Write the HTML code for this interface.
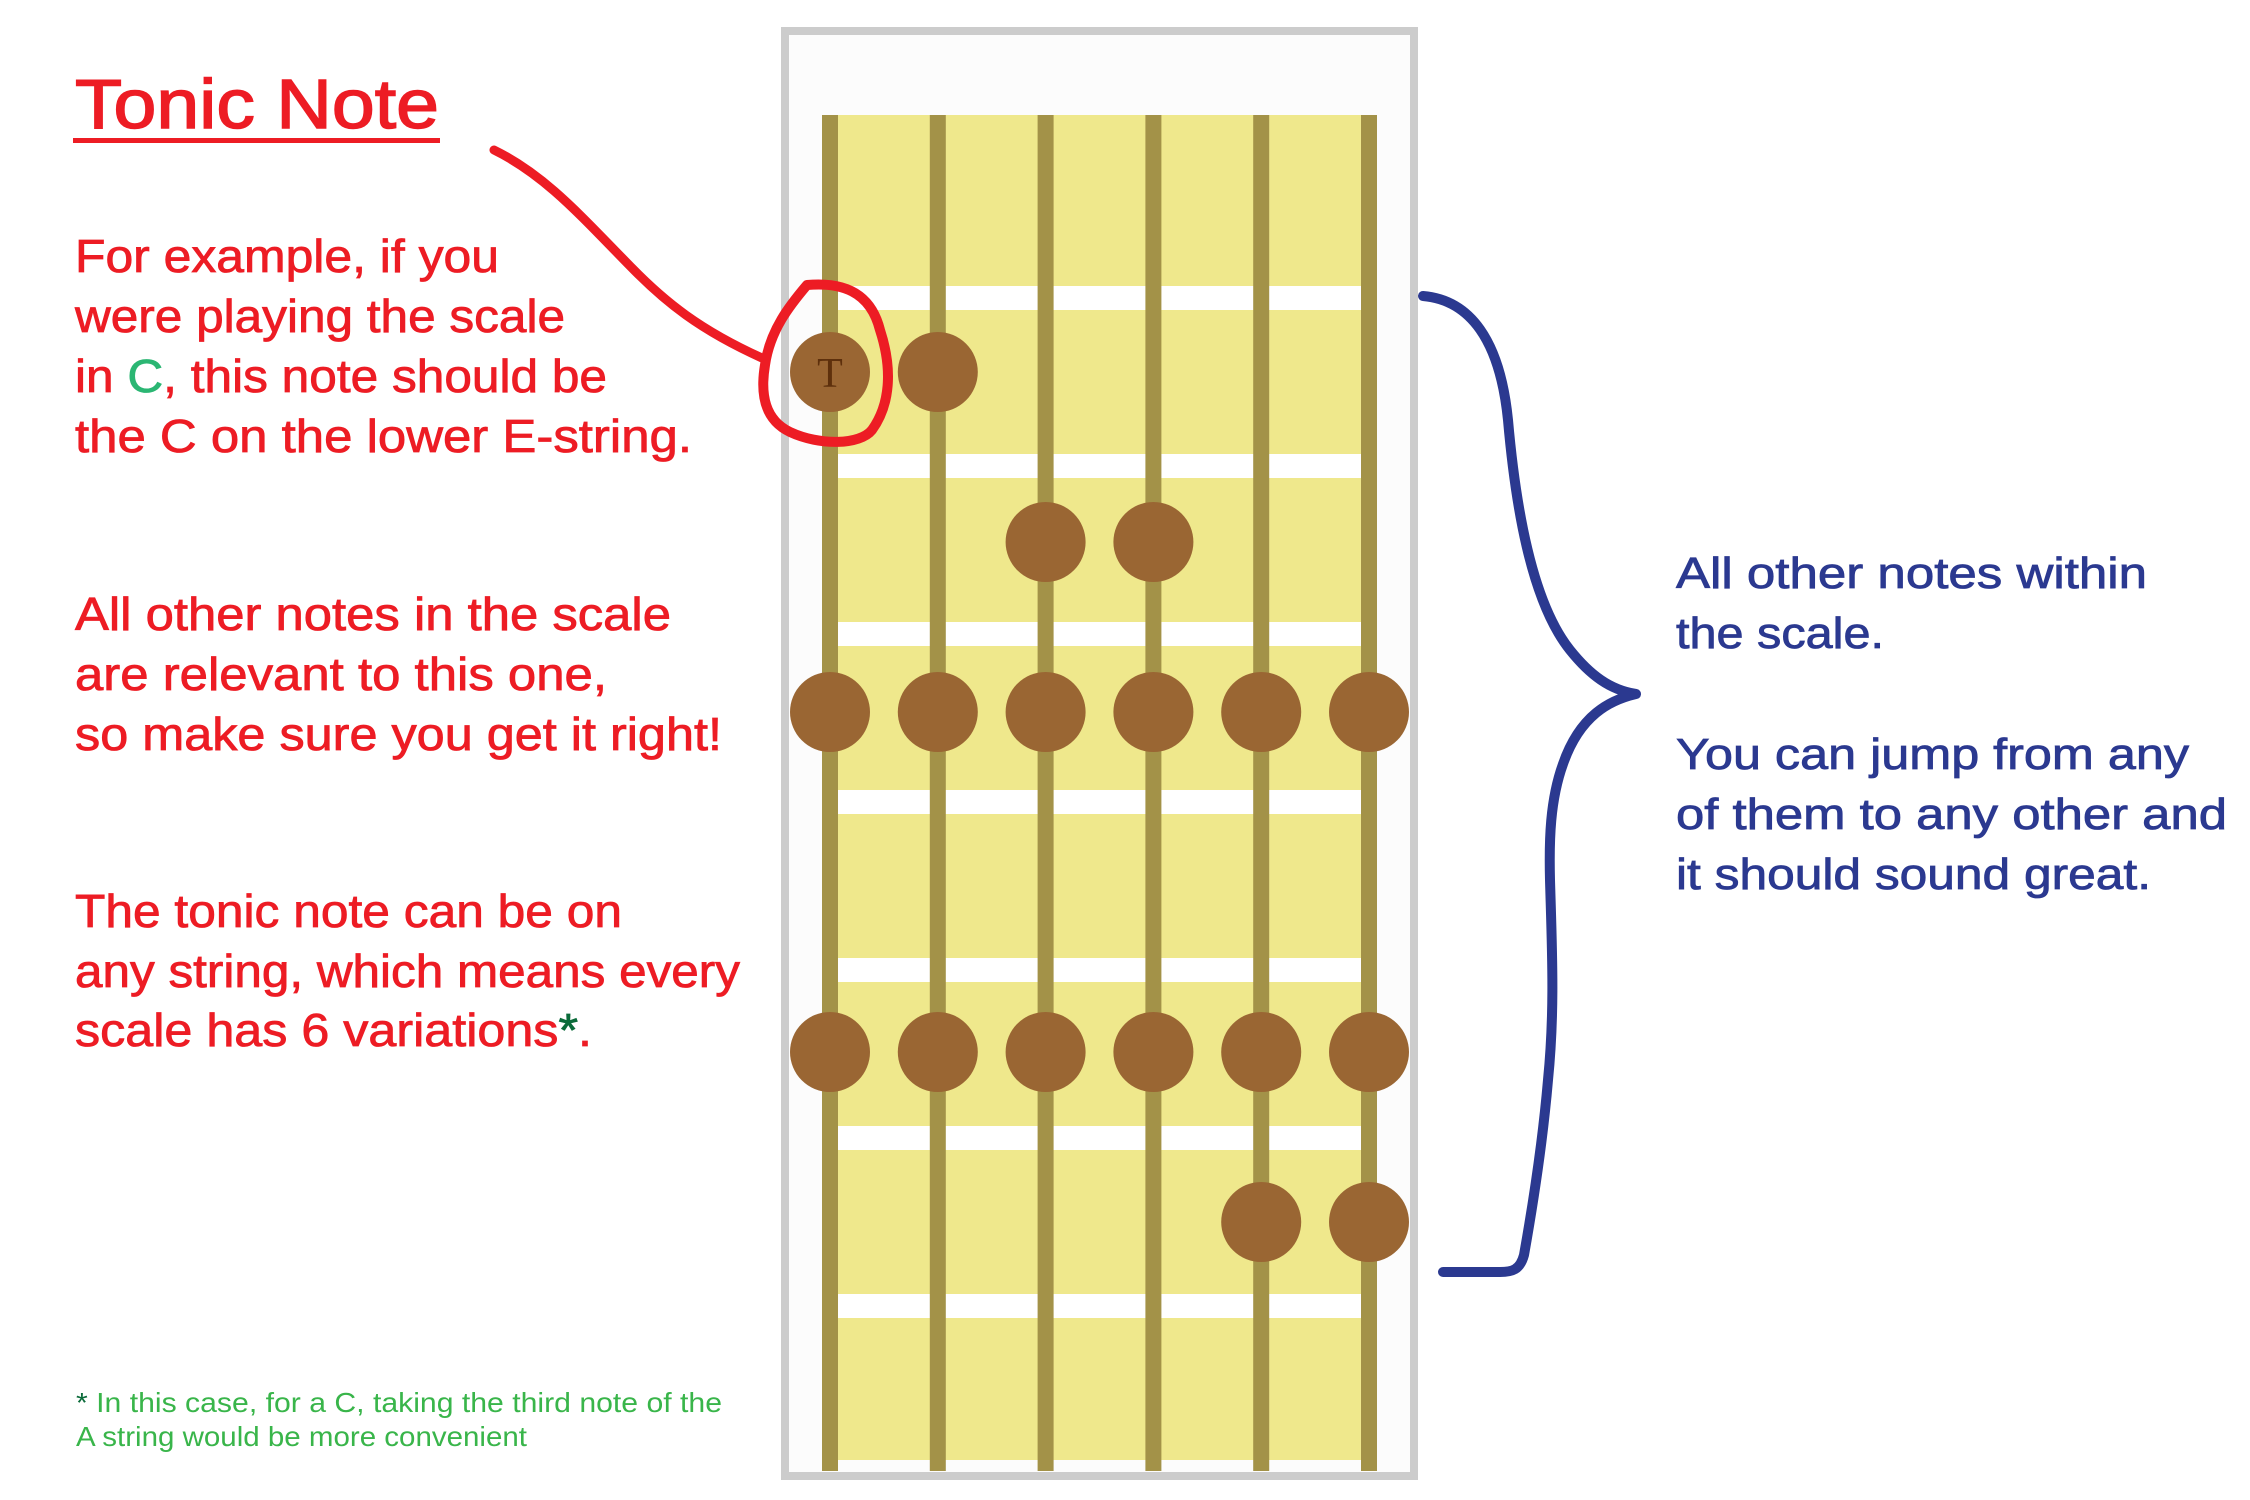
<!DOCTYPE html>
<html><head><meta charset="utf-8"><style>
html,body{margin:0;padding:0;background:#fff;}
svg{display:block;}
text{font-family:"Liberation Sans",sans-serif;}
</style></head><body>
<svg id="root" width="2250" height="1500" viewBox="0 0 2250 1500" xmlns="http://www.w3.org/2000/svg">
  <rect x="0" y="0" width="2250" height="1500" fill="#ffffff"/>
  <g fill="#ed1c24">
    <text x="75" y="128" font-size="70" stroke="#ed1c24" stroke-width="1.5" textLength="364" lengthAdjust="spacingAndGlyphs">Tonic Note</text>
    <rect x="73" y="138" width="367" height="5" fill="#ed1c24"/>
    <g font-size="46" stroke="#ed1c24" stroke-width="0.8">
      <text x="75" y="272" textLength="424" lengthAdjust="spacingAndGlyphs">For example, if you</text>
      <text x="75" y="332" textLength="490" lengthAdjust="spacingAndGlyphs">were playing the scale</text>
      <text x="75" y="392" textLength="532" lengthAdjust="spacingAndGlyphs">in <tspan fill="#2bb673" stroke="#2bb673">C</tspan>, this note should be</text>
      <text x="75" y="452" textLength="617" lengthAdjust="spacingAndGlyphs">the C on the lower E-string.</text>
    </g>
    <g font-size="46" stroke="#ed1c24" stroke-width="0.8">
      <text x="75" y="630" textLength="596" lengthAdjust="spacingAndGlyphs">All other notes in the scale</text>
      <text x="75" y="690" textLength="532" lengthAdjust="spacingAndGlyphs">are relevant to this one,</text>
      <text x="75" y="750" textLength="647" lengthAdjust="spacingAndGlyphs">so make sure you get it right!</text>
    </g>
    <g font-size="46" stroke="#ed1c24" stroke-width="0.8">
      <text x="75" y="927" textLength="547" lengthAdjust="spacingAndGlyphs">The tonic note can be on</text>
      <text x="75" y="987" textLength="665" lengthAdjust="spacingAndGlyphs">any string, which means every</text>
      <text x="75" y="1046" textLength="517" lengthAdjust="spacingAndGlyphs">scale has 6 variations<tspan fill="#0b6b3a" stroke="#0b6b3a">*</tspan>.</text>
    </g>
    <g font-size="28" fill="#39b54a">
      <text x="76" y="1412" textLength="646" lengthAdjust="spacingAndGlyphs"><tspan fill="#0b6b3a">*</tspan> In this case, for a C, taking the third note of the</text>
      <text x="76" y="1446" textLength="451" lengthAdjust="spacingAndGlyphs">A string would be more convenient</text>
    </g>
  </g>
  <g id="board">
    <rect x="785" y="31" width="629" height="1445" fill="#fcfcfc" stroke="#cccccc" stroke-width="8"/>
  </g>
  <path d="M494,150 C545,175 580,215 631,267 C665,302 700,330 762,358" fill="none" stroke="#ed1c24" stroke-width="9" stroke-linecap="round"/>
  <path d="M807,285 C840,282 870,290 880,330 C893,370 890,405 872,430 C860,445 820,446 790,432 C765,420 760,395 765,365 C770,330 790,305 807,285 Z" fill="none" stroke="#ed1c24" stroke-width="10" stroke-linejoin="round"/>
  <path d="M1423,296 C1470,300 1500,340 1508,420 C1515,500 1530,600 1570,650 C1590,675 1610,690 1636,694 C1610,700 1580,715 1563,764 C1550,800 1549,840 1550,880 C1552,950 1555,1010 1548,1080 C1542,1150 1532,1210 1524,1255 C1520,1270 1512,1272 1500,1272 L1443,1272" fill="none" stroke="#2b3990" stroke-width="10" stroke-linecap="round" stroke-linejoin="round"/>
  <g fill="#2b3990" stroke="#2b3990" stroke-width="0.8" font-size="44">
    <text x="1676" y="588" textLength="471" lengthAdjust="spacingAndGlyphs">All other notes within</text>
    <text x="1676" y="648" textLength="208" lengthAdjust="spacingAndGlyphs">the scale.</text>
    <text x="1676" y="769" textLength="513" lengthAdjust="spacingAndGlyphs">You can jump from any</text>
    <text x="1676" y="829" textLength="551" lengthAdjust="spacingAndGlyphs">of them to any other and</text>
    <text x="1676" y="889" textLength="475" lengthAdjust="spacingAndGlyphs">it should sound great.</text>
  </g>
</svg>
<script>
const noteFrets   = [0, 0, 1, 1, 2, 2, 2, 2, 2, 2, 4, 4, 4, 4, 4, 4, 5, 5];
const noteStrings = [0, 1, 2, 3, 0, 1, 2, 3, 4, 5, 0, 1, 2, 3, 4, 5, 4, 5];
const noteIsTonic = [1, 0, 0, 0, 0, 0, 0, 0, 0, 0, 0, 0, 0, 0, 0, 0, 0, 0];
const stringCount = 6;
const fretCount = 7;

const NS = 'http://www.w3.org/2000/svg';
const board = document.getElementById('board');
function xString(i){ return 830 + i * 107.8; }
function yFretBar(k){ return 298 + k * 168; }
function yNote(r){ return 372 + r * 170; }

const yellow = document.createElementNS(NS, 'rect');


yellow.setAttribute('x', xString(0)); yellow.setAttribute('y', 115);
yellow.setAttribute('width', xString(stringCount - 1) - xString(0)); yellow.setAttribute('height', 1345);
yellow.setAttribute('fill', '#efe88c');
board.appendChild(yellow);
for (let k = 0; k < fretCount; k++) {
  const f = document.createElementNS(NS, 'rect');
  
  
  f.setAttribute('x', xString(0)); f.setAttribute('y', yFretBar(k) - 12);
  f.setAttribute('width', xString(stringCount - 1) - xString(0)); f.setAttribute('height', 24);
  f.setAttribute('fill', '#ffffff');
  board.appendChild(f);
}
for (let i = 0; i < stringCount; i++) {
  const s = document.createElementNS(NS, 'rect');
  
  
  s.setAttribute('x', xString(i) - 8); s.setAttribute('y', 115);
  s.setAttribute('width', 16); s.setAttribute('height', 1356);
  s.setAttribute('fill', '#a39248');
  board.appendChild(s);
}
for (let n = 0; n < noteFrets.length; n++) {
  const c = document.createElementNS(NS, 'circle');
  
  
  c.setAttribute('cx', xString(noteStrings[n])); c.setAttribute('cy', yNote(noteFrets[n]));
  c.setAttribute('r', 40); c.setAttribute('fill', '#9a6633');
  board.appendChild(c);
  if (noteIsTonic[n]) {
    const t = document.createElementNS(NS, 'text');
    
    
    t.setAttribute('x', xString(noteStrings[n])); t.setAttribute('y', yNote(noteFrets[n]) + 15);
    t.setAttribute('text-anchor', 'middle'); t.setAttribute('font-size', '42');
    t.setAttribute('fill', '#5e300c');
    t.setAttribute('style', 'font-family:"Liberation Serif",serif');
    t.textContent = 'T';
    board.appendChild(t);
  }
}
</script>
</body></html>
